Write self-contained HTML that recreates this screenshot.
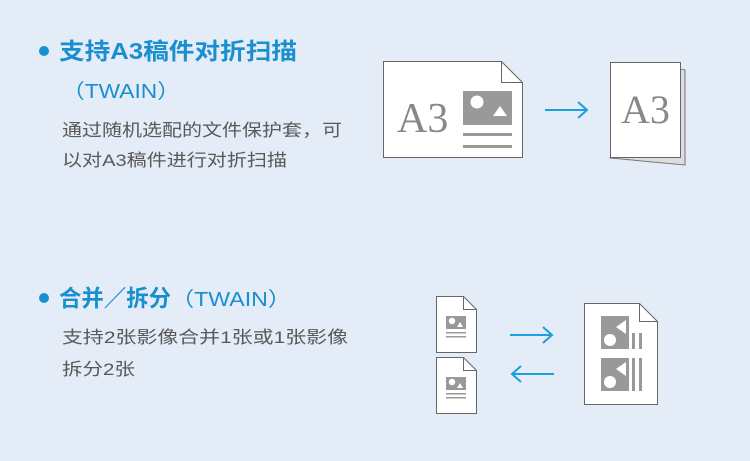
<!DOCTYPE html>
<html><head><meta charset="utf-8"><style>
html,body{margin:0;padding:0;background:#e4ecf7;}
svg{display:block}
text{font-family:"Liberation Sans","Noto Sans CJK SC",sans-serif;}
text.serif{font-family:"Liberation Serif",serif;}
</style></head><body>
<svg width="750" height="461" viewBox="0 0 750 461" xmlns="http://www.w3.org/2000/svg">
<rect width="750" height="461" fill="#e4ecf7"/>
<circle cx="44" cy="51" r="5" fill="#1a8fd0"/>
<text x="59" y="59" font-size="23" font-weight="bold" fill="#1a8fd0" textLength="238" lengthAdjust="spacingAndGlyphs">支持A3稿件对折扫描</text>
<text x="62" y="98" font-size="20" fill="#1a8fd0" textLength="118" lengthAdjust="spacingAndGlyphs">（TWAIN）</text>
<text x="62" y="136" font-size="17" fill="#595959" textLength="280" lengthAdjust="spacingAndGlyphs">通过随机选配的文件保护套，可</text>
<text x="62" y="166" font-size="17" fill="#595959" textLength="225" lengthAdjust="spacingAndGlyphs">以对A3稿件进行对折扫描</text>
<circle cx="44" cy="298" r="5" fill="#1a8fd0"/>
<text x="59" y="306" font-size="23" font-weight="bold" fill="#1a8fd0" textLength="112" lengthAdjust="spacingAndGlyphs">合并／拆分</text>
<text x="171" y="306" font-size="20" fill="#1a8fd0" textLength="120" lengthAdjust="spacingAndGlyphs">（TWAIN）</text>
<text x="62" y="343" font-size="17" fill="#595959" textLength="286" lengthAdjust="spacingAndGlyphs">支持2张影像合并1张或1张影像</text>
<text x="62" y="375" font-size="17" fill="#595959" textLength="73" lengthAdjust="spacingAndGlyphs">拆分2张</text>
<path d="M383.5 61.5 H501.5 L522.5 82.5 V157.5 H383.5 Z" fill="#fff" stroke="#666" stroke-width="1"/>
<path d="M501.5 61.5 V82.5 H522.5" fill="none" stroke="#666" stroke-width="1"/>
<text class="serif" x="397" y="132" font-size="42" fill="#888">A3</text>
<rect x="463" y="91" width="49" height="34" fill="#999"/>
<circle cx="477" cy="102" r="6.5" fill="#fff"/>
<path d="M493 116 L500 106 L507 116 Z" fill="#fff"/>
<rect x="463" y="133" width="49" height="3" fill="#999"/>
<rect x="463" y="145" width="49" height="3" fill="#999"/>
<path d="M545 110 H587 M578 102 L587 110 L578 118" fill="none" stroke="#1aa0dc" stroke-width="2"/>
<path d="M674 68 L685 70 V165 L610 158 Z" fill="#ddd" stroke="#777" stroke-width="1"/>
<rect x="610.5" y="62.5" width="70" height="95" fill="#fff" stroke="#666" stroke-width="1"/>
<text class="serif" x="621" y="123" font-size="40" fill="#888">A3</text>
<g id="sd">
<path d="M436.5 296.5 H463.5 L476.5 309.5 V352.5 H436.5 Z" fill="#fff" stroke="#666"/>
<path d="M463.5 296.5 V309.5 H476.5" fill="none" stroke="#666"/>
<rect x="446" y="316" width="20" height="13" fill="#999"/>
<circle cx="452" cy="321" r="3.2" fill="#fff"/>
<path d="M457 327 L460 322 L463 327Z" fill="#fff"/>
<rect x="446" y="332" width="20" height="1.5" fill="#999"/>
<rect x="446" y="336" width="20" height="1.5" fill="#999"/>
</g>
<use href="#sd" transform="translate(0,61)"/>
<path d="M510 335 H552 M543 327 L552 335 L543 343" fill="none" stroke="#1aa0dc" stroke-width="2"/>
<path d="M554 374 H512 M521 366 L512 374 L521 382" fill="none" stroke="#1aa0dc" stroke-width="2"/>
<path d="M584.5 303.5 H639.5 L657.5 321.5 V404.5 H584.5 Z" fill="#fff" stroke="#666"/>
<path d="M639.5 303.5 V321.5 H657.5" fill="none" stroke="#666"/>
<rect x="601" y="316" width="28" height="33" fill="#999"/>
<circle cx="610" cy="340" r="6" fill="#fff"/>
<path d="M626 320 V334 L616 327Z" fill="#fff"/>
<rect x="632" y="333" width="3" height="16" fill="#999"/>
<rect x="639" y="333" width="3" height="16" fill="#999"/>
<rect x="601" y="358" width="28" height="33" fill="#999"/>
<circle cx="610" cy="382" r="6" fill="#fff"/>
<path d="M626 362 V376 L616 369Z" fill="#fff"/>
<rect x="632" y="358" width="3" height="33" fill="#999"/>
<rect x="639" y="358" width="3" height="33" fill="#999"/>
</svg>
</body></html>
